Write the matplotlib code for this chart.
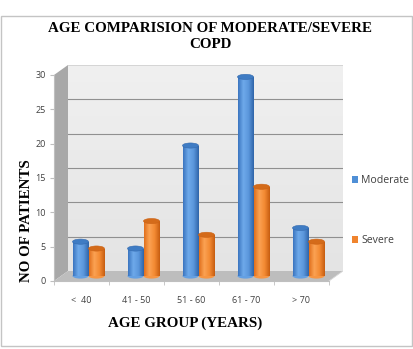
import numpy as np
import matplotlib
matplotlib.use("Agg")
import matplotlib.pyplot as plt
from matplotlib.patches import Rectangle, Polygon, Ellipse
from matplotlib.colors import LinearSegmentedColormap

# ---- data ----
categories = ["<  40", "41 - 50", "51 - 60", "61 - 70", "> 70"]
moderate = [5, 4, 19, 29, 7]
severe = [4, 8, 6, 13, 5]
series_names = ["Moderate", "Severe"]
yticks = [0, 5, 10, 15, 20, 25, 30]

W, H = 413, 349
fig = plt.figure(figsize=(W / 100, H / 100), dpi=100)
fig.patch.set_facecolor("white")

def px(x0, y0, x1, y1):
    return [x0 / W, 1 - y1 / H, (x1 - x0) / W, (y1 - y0) / H]

ax = fig.add_axes(px(54, 65, 343, 281))
n = len(categories)
ymax = 30
dxd = 14 / 55.0          # depth offset in x data units
dyd = 10 / 6.867         # depth offset in y data units
ax.set_xlim(-0.5, n - 0.5 + dxd)
ax.set_ylim(0, ymax + dyd)
ax.set_facecolor("none")

# back wall with gradient
grad = np.linspace(0, 1, 256).reshape(-1, 1)
wall_cmap = LinearSegmentedColormap.from_list("wall", ["#e4e4e4", "#f0f0f0"])
ax.imshow(grad, extent=(-0.5 + dxd, n - 0.5 + dxd, dyd, ymax + dyd), cmap=wall_cmap,
          aspect="auto", origin="lower", zorder=0)
for v in yticks[1:-1]:
    ax.plot([-0.5 + dxd, n - 0.5 + dxd], [v + dyd, v + dyd], color="#909090", lw=0.8, zorder=1)
ax.plot([-0.5 + dxd, n - 0.5 + dxd], [ymax + dyd, ymax + dyd], color="#d0d0d0", lw=0.6, zorder=1)

# left side wall
ax.add_patch(Polygon([(-0.5, 0), (-0.5, ymax), (-0.5 + dxd, ymax + dyd), (-0.5 + dxd, dyd)],
                     closed=True, facecolor="#a8a8a8", edgecolor="none", zorder=1))
# floor
ax.add_patch(Polygon([(-0.5, 0), (n - 0.5, 0), (n - 0.5 + dxd, dyd), (-0.5 + dxd, dyd)],
                     closed=True, facecolor="#bdbdbd", edgecolor="none", zorder=1))
ax.plot([n - 0.5, n - 0.5 + dxd], [0, dyd], color="#d8d8d8", lw=0.6, zorder=1)

# cylinders
w = 16 / 55.0
eh = 0.75
blue_cmap = LinearSegmentedColormap.from_list("b", ["#3a74bf", "#6ea9ea", "#5b97dc", "#2f64a8"])
orng_cmap = LinearSegmentedColormap.from_list("o", ["#e06f1c", "#fba253", "#f38a33", "#c65d10"])
hgrad = np.linspace(0, 1, 128).reshape(1, -1)
x = np.arange(n)
for vals, off, base, cm, cap in [(moderate, -w / 2, "#5592d6", blue_cmap, "#3f7cc4"),
                                 (severe, w / 2, "#f0842e", orng_cmap, "#d46b1a")]:
    centers = x + dxd / 2 + off
    bars = ax.bar(centers, vals, width=w, bottom=dyd / 2, color=base, zorder=3,
                  edgecolor="none")
    for b, c, v in zip(bars, centers, vals):
        top = v + dyd / 2
        im = ax.imshow(hgrad, extent=(c - w / 2, c + w / 2, dyd / 2, top), cmap=cm,
                       aspect="auto", zorder=4)
        im.set_clip_path(b)
        ax.add_patch(Ellipse((c, dyd / 2), w, eh, facecolor=cm(0.5), edgecolor="none", zorder=2.9))
        ax.add_patch(Ellipse((c, top), w, eh, facecolor=cap, edgecolor=cm(0.95), lw=0.4, zorder=5))

# axes styling
for s in ["top", "right"]:
    ax.spines[s].set_visible(False)
ax.spines["left"].set_bounds(0, ymax)
ax.spines["left"].set_color("#bfbfbf")
ax.spines["bottom"].set_bounds(-0.5, n - 0.5)
ax.spines["bottom"].set_color("#bfbfbf")
ax.set_yticks(yticks)
ax.set_yticklabels([str(t) for t in yticks], fontsize=6.5, color="#404040", family="Open Sans")
ax.tick_params(axis="y", length=3, color="#bfbfbf", pad=3)
ax.set_xticks(x)
ax.set_xticklabels(categories, fontsize=6.5, color="#404040", family="Open Sans")
ax.tick_params(axis="x", length=0, pad=11)
ax.set_xticks(np.arange(-0.5, n, 1.0), minor=True)
ax.tick_params(axis="x", which="minor", length=3, color="#bfbfbf")

# legend
handles = [Rectangle((0, 0), 1, 1, facecolor="#4f8fd6"), Rectangle((0, 0), 1, 1, facecolor="#f0842e")]
leg = fig.legend(handles, series_names, loc="upper left", bbox_to_anchor=(352 / W, 1 - 175 / H),
                 frameon=False, prop={"family": "Open Sans", "size": 7.6},
                 handlelength=0.6, handleheight=0.6, handletextpad=0.3,
                 labelspacing=4.65, borderaxespad=0, borderpad=0)
for t in leg.get_texts():
    t.set_color("#404040")

# titles
fig.text(210 / W, 1 - 37 / H, "AGE COMPARISION OF MODERATE/SEVERE\nCOPD", ha="center", va="center",
         family="Liberation Serif", fontweight="bold", fontsize=10.8, linespacing=1.3)
fig.text(26 / W, 1 - 221 / H, "NO OF PATIENTS", rotation=90, ha="center", va="center",
         family="Liberation Serif", fontweight="bold", fontsize=10.8)
fig.text(185 / W, 1 - 323 / H, "AGE GROUP (YEARS)", ha="center", va="center",
         family="Liberation Serif", fontweight="bold", fontsize=10.8)

# outer frame
fig.patches.append(Rectangle((0.5 / W, 1 - 346 / H), 411.5 / W, 330 / H, transform=fig.transFigure,
                             fill=False, edgecolor="#c4c4c4", lw=1.0))

fig.savefig("out.png", dpi=100)
